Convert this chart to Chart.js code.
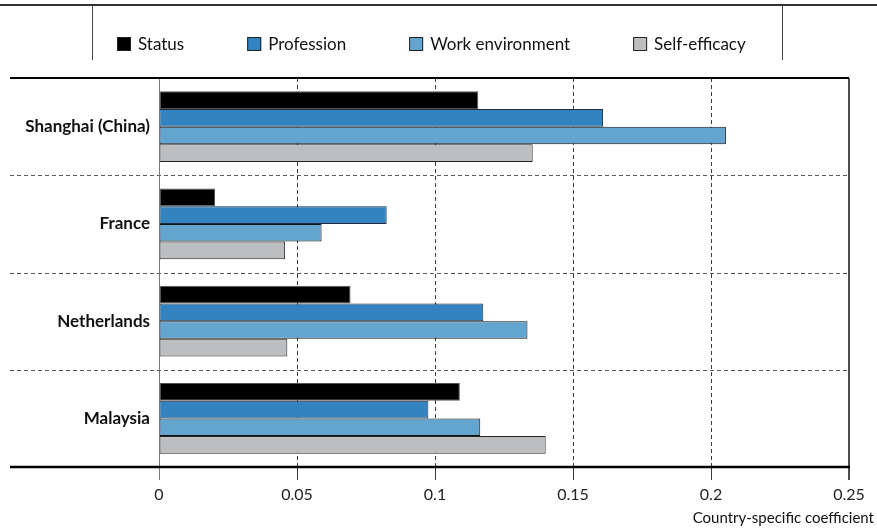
<!DOCTYPE html>
<html>
<head>
<meta charset="utf-8">
<script src="https://cdn.jsdelivr.net/npm/chart.js@4.4.0/dist/chart.umd.min.js"></script>
<style>
  html, body { margin: 0; padding: 0; background: #fff; }
  #wrap { width: 877px; height: 528px; position: relative; }
</style>
</head>
<body>
<div id="wrap"><canvas id="c" width="877" height="528"></canvas></div>
<script>
// Countries shown on the category axis
const countries = ['Shanghai (China)', 'France', 'Netherlands', 'Malaysia'];

// Country-specific coefficients, one array per factor
const statusValues       = [0.1157, 0.0203, 0.0694, 0.1090];
const professionValues   = [0.1609, 0.0825, 0.1175, 0.0976];
const workEnvValues      = [0.2054, 0.0589, 0.1335, 0.1164];
const selfEfficacyValues = [0.1354, 0.0457, 0.0465, 0.1401];

const seriesNames = ['Status', 'Profession', 'Work environment', 'Self-efficacy'];
const xTicks = [0, 0.05, 0.1, 0.15, 0.2, 0.25];
const xTitle = 'Country-specific coefficient';

const FONT = 'Lato, "Open Sans", sans-serif';

const palette = {
  fills:   ['#000000', '#3283c0', '#64a5d0', '#bdbec0'],
  borders: ['#555555', '#1f2a36', '#111111', '#222222']
};

const seriesValues = [statusValues, professionValues, workEnvValues, selfEfficacyValues];

const datasets = seriesNames.map((name, i) => ({
  label: name,
  data: seriesValues[i],
  backgroundColor: palette.fills[i],
  borderColor: palette.borders[i],
  borderWidth: 1,
  borderSkipped: false,
  barPercentage: 1.0,
  categoryPercentage: 0.725
}));

// Frame, separators, legend and axis caption drawn around the plot
const decorations = {
  id: 'decorations',
  beforeDatasetsDraw(chart) {
    const { ctx, chartArea: a, scales: { y } } = chart;
    ctx.save();
    ctx.strokeStyle = '#5a5a5a';
    ctx.lineWidth = 1.2;
    ctx.setLineDash([4, 3]);
    for (let i = 0; i < countries.length - 1; i++) {
      const yy = Math.round((y.getPixelForValue(i) + y.getPixelForValue(i + 1)) / 2) + 0.5;
      ctx.beginPath();
      ctx.moveTo(10, yy);
      ctx.lineTo(a.right, yy);
      ctx.stroke();
    }
    ctx.restore();
  },
  afterDraw(chart) {
    const { ctx, chartArea: a, scales: { x } } = chart;
    ctx.save();
    ctx.setLineDash([]);

    // top rule
    ctx.strokeStyle = '#333';
    ctx.lineWidth = 2;
    ctx.beginPath(); ctx.moveTo(0, 5); ctx.lineTo(877, 5); ctx.stroke();

    // legend frame sides
    ctx.lineWidth = 1;
    ctx.strokeStyle = '#444';
    [92.5, 782.5].forEach(xx => {
      ctx.beginPath(); ctx.moveTo(xx, 5); ctx.lineTo(xx, 60); ctx.stroke();
    });

    // legend items
    ctx.font = '17px ' + FONT;
    ctx.textBaseline = 'middle';
    ctx.textAlign = 'left';
    let lx = 117;
    const ly = 44;
    chart.data.datasets.forEach((ds, i) => {
      ctx.fillStyle = ds.backgroundColor;
      ctx.fillRect(lx, ly - 7, 14, 14);
      ctx.strokeStyle = '#222';
      ctx.lineWidth = 1;
      ctx.strokeRect(lx + 0.5, ly - 6.5, 13, 13);
      ctx.fillStyle = '#111';
      ctx.fillText(ds.label, lx + 21, ly + 1);
      lx += 21 + ctx.measureText(ds.label).width + 63;
    });

    // zero line
    const x0 = Math.round(x.getPixelForValue(0)) + 0.5;
    ctx.strokeStyle = '#777';
    ctx.lineWidth = 1;
    ctx.beginPath(); ctx.moveTo(x0, a.top); ctx.lineTo(x0, a.bottom + 13); ctx.stroke();

    // right border
    const xr = x.getPixelForValue(0.25);
    ctx.strokeStyle = '#111';
    ctx.lineWidth = 1.5;
    ctx.beginPath(); ctx.moveTo(xr, a.top); ctx.lineTo(xr, a.bottom + 13); ctx.stroke();

    // top and bottom rules of the plot
    ctx.strokeStyle = '#000';
    ctx.lineWidth = 2;
    ctx.beginPath(); ctx.moveTo(10, a.top); ctx.lineTo(xr, a.top); ctx.stroke();
    ctx.lineWidth = 2.5;
    ctx.beginPath(); ctx.moveTo(10, a.bottom); ctx.lineTo(xr + 1, a.bottom); ctx.stroke();

    // axis caption
    ctx.font = '15px ' + FONT;
    ctx.fillStyle = '#111';
    ctx.textAlign = 'right';
    ctx.textBaseline = 'middle';
    ctx.fillText(xTitle, 874, 518);
    ctx.restore();
  }
};

new Chart(document.getElementById('c'), {
  type: 'bar',
  data: { labels: countries, datasets },
  plugins: [decorations],
  options: {
    indexAxis: 'y',
    responsive: false,
    animation: false,
    layout: { padding: { top: 78, right: 28, left: 0, bottom: 0 } },
    plugins: {
      legend: { display: false },
      tooltip: { enabled: false }
    },
    scales: {
      x: {
        min: 0,
        max: 0.25,
        afterBuildTicks(scale) { scale.ticks = xTicks.map(v => ({ value: v })); },
        afterFit(scale) { scale.height = 61; },
        grid: {
          color: ctx => (ctx.tick && (ctx.tick.value === 0 || ctx.tick.value === 0.25)) ? 'rgba(0,0,0,0)' : '#3a3a3a',
          lineWidth: 1,
          tickLength: 13,
          drawTicks: true
        },
        border: { display: false, dash: [4, 3] },
        ticks: {
          font: { family: FONT, size: 16 },
          color: '#222',
          padding: 5,
          callback: v => String(v)
        }
      },
      y: {
        afterFit(scale) { scale.width = 159; },
        grid: { display: false, drawTicks: false, tickLength: 0 },
        border: { display: false },
        ticks: {
          font: { family: FONT, size: 17, weight: 'bold' },
          color: '#111',
          padding: 9
        }
      }
    }
  }
});
</script>
</body>
</html>
